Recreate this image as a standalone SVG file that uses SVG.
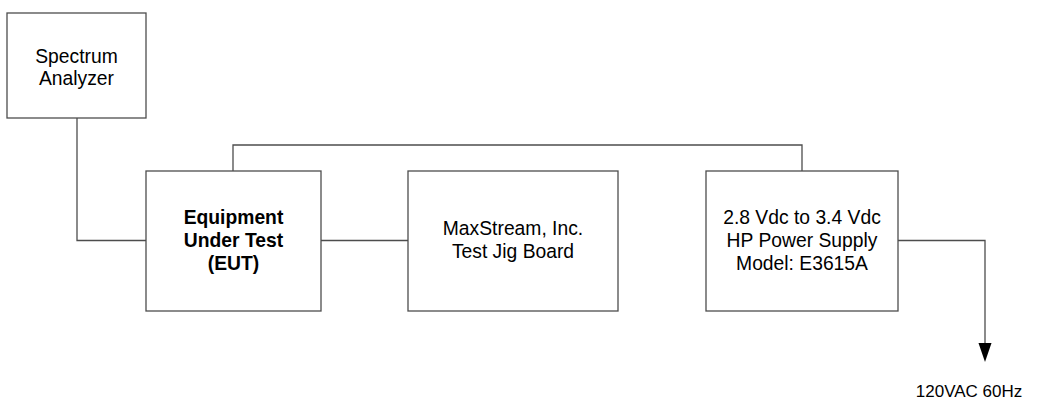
<svg xmlns="http://www.w3.org/2000/svg" width="1042" height="405" viewBox="0 0 1042 405">
<style>
.box{fill:#fff;stroke:#4d4d4d;stroke-width:1.3}
.ln{fill:none;stroke:#4d4d4d;stroke-width:1.3}
text{font-family:"Liberation Sans",Arial,sans-serif;font-size:19.3px;fill:#000;text-anchor:middle}
.b{font-weight:bold}
</style>
<defs>
<marker id="arr" markerWidth="14" markerHeight="20" refX="7" refY="19" orient="auto" markerUnits="userSpaceOnUse" viewBox="0 0 14 20">
<path d="M0.5,0 L13.5,0 L7,19 Z" fill="#000"/>
</marker>
</defs>
<rect width="1042" height="405" fill="#fff"/>
<g id="connectors">
<polyline class="ln" points="77,118 77,240.5 146,240.5"/>
<line class="ln" x1="321" y1="240.5" x2="408" y2="240.5"/>
<polyline class="ln" points="233,171 233,145 802,145 802,171"/>
<polyline class="ln" points="898,240.5 985,240.5 985,343"/>
<path d="M978.5,343 L991.5,343 L985,362 Z" fill="#000"/>
</g>
<g id="spectrum-analyzer">
<rect class="box" x="7" y="13" width="139" height="105"/>
<text x="76.5" y="63">Spectrum</text>
<text x="76.5" y="85">Analyzer</text>
</g>
<g id="eut">
<rect class="box" x="146" y="171" width="175" height="140"/>
<text class="b" x="233.5" y="224">Equipment</text>
<text class="b" x="233.5" y="247">Under Test</text>
<text class="b" x="233.5" y="270">(EUT)</text>
</g>
<g id="test-jig">
<rect class="box" x="408" y="171" width="210" height="140"/>
<text x="513" y="235">MaxStream, Inc.</text>
<text x="513" y="258">Test Jig Board</text>
</g>
<g id="power-supply">
<rect class="box" x="706" y="171" width="192" height="140"/>
<text x="802" y="224">2.8 Vdc to 3.4 Vdc</text>
<text x="802" y="247">HP Power Supply</text>
<text x="802" y="270">Model: E3615A</text>
</g>
<g id="ac-label">
<text x="969" y="397" style="font-size:17px">120VAC 60Hz</text>
</g>
</svg>
